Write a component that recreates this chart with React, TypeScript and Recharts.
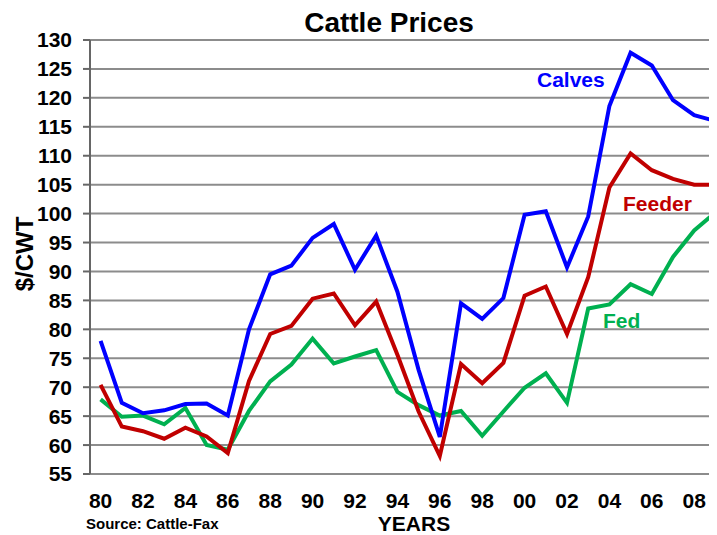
import { LineChart, Line, XAxis, YAxis, CartesianGrid } from 'recharts';

const years = ['80', '81', '82', '83', '84', '85', '86', '87', '88', '89', '90', '91', '92', '93', '94',
  '95', '96', '97', '98', '99', '00', '01', '02', '03', '04', '05', '06', '07', '08', '09'];

const calves = [78, 67.3, 65.5, 66, 67.1, 67.2, 65.1, 80, 89.5, 91, 95.8, 98.2, 90.3, 96.2, 86.5,
  73, 61.4, 84.5, 81.8, 85.4, 99.8, 100.4, 90.7, 99.5, 118.6, 127.8, 125.6, 119.6, 117, 116];

const feeder = [70.4, 63.2, 62.4, 61.1, 63, 61.5, 58.6, 71.1, 79.2, 80.6, 85.3, 86.2, 80.7, 84.8, 75.6,
  65.8, 58.1, 74, 70.7, 74.2, 85.8, 87.4, 79.2, 89, 104.5, 110.4, 107.5, 106, 105, 105];

const fed = [67.9, 64.9, 65.1, 63.6, 66.4, 60, 59.2, 65.9, 71, 73.9, 78.4, 74.1, 75.3, 76.4, 69.2,
  66.9, 65.1, 65.9, 61.6, 65.8, 69.9, 72.4, 67.3, 83.6, 84.3, 87.8, 86.1, 92.5, 97.1, 100.2];

const yTicks = [55, 60, 65, 70, 75, 80, 85, 90, 95, 100, 105, 110, 115, 120, 125, 130];

const data = years.map((year, i) => ({ i, year, calves: calves[i], feeder: feeder[i], fed: fed[i] }));
const labelTicks = years.map((_, i) => i).filter((i) => i % 2 === 0);
const boundaryTicks = [...years.map((_, i) => i - 0.5), years.length - 0.5];

const font = 'Liberation Sans, Arial, sans-serif';
const grid = '#8c8c8c';

export default function App() {
  return (
    <div style={{ position: 'relative', width: 709, height: 527, overflow: 'hidden', fontFamily: font }}>
      <LineChart width={718} height={527} data={data} margin={{ top: 32, right: 0, bottom: 0, left: 0 }}>
        <CartesianGrid vertical={false} stroke={grid} strokeWidth={2} />
        <XAxis
          xAxisId="b"
          type="number"
          domain={[-0.5, years.length - 0.5]}
          ticks={boundaryTicks}
          allowDataOverflow
          height={0}
          tickSize={7}
          tickFormatter={() => ''}
          stroke="#666"
          axisLine={{ stroke: '#666', strokeWidth: 2 }}
          tickLine={{ stroke: '#666', strokeWidth: 2 }}
        />
        <XAxis
          dataKey="i"
          type="number"
          domain={[-0.5, years.length - 0.5]}
          ticks={labelTicks}
          tickFormatter={(v: number) => years[v]}
          axisLine={false}
          tickLine={false}
          tickSize={7}
          tickMargin={12}
          height={61}
          interval={0}
          tick={{ fill: '#000', fontSize: 21, fontWeight: 'bold', fontFamily: font }}
        />
        <YAxis
          domain={[55, 130]}
          ticks={yTicks}
          width={82}
          interval={0}
          tickSize={7}
          tickMargin={11}
          axisLine={{ stroke: '#666', strokeWidth: 2 }}
          tickLine={{ stroke: '#666', strokeWidth: 2 }}
          tick={{ fill: '#000', fontSize: 21, fontWeight: 'bold', fontFamily: font }}
        />
        <Line type="linear" dataKey="fed" stroke="#00b050" strokeWidth={4} dot={false} isAnimationActive={false} />
        <Line type="linear" dataKey="feeder" stroke="#c00000" strokeWidth={4} dot={false} isAnimationActive={false} />
        <Line type="linear" dataKey="calves" stroke="#0000ff" strokeWidth={4} dot={false} isAnimationActive={false} />
      </LineChart>
      <svg width={709} height={527} style={{ position: 'absolute', left: 0, top: 0, pointerEvents: 'none' }}>
        <g fontFamily={font} fontWeight="bold">
          <text x={381} y={24} textAnchor="middle" fontSize={28} fill="#000">Cattle Prices</text>
          <text x={25} y={246} textAnchor="middle" fontSize={24} fill="#000" transform="rotate(-90 25 246)">$/CWT</text>
          <text x={406} y={523} textAnchor="middle" fontSize={21} fill="#000">YEARS</text>
          <text x={78} y={521} fontSize={15} fill="#000">Source: Cattle-Fax</text>
          <text x={529} y={79} fontSize={21} fill="#0000ff">Calves</text>
          <text x={615} y={203} fontSize={21} fill="#c00000">Feeder</text>
          <text x={595} y={320} fontSize={21} fill="#00b050">Fed</text>
        </g>
      </svg>
    </div>
  );
}
